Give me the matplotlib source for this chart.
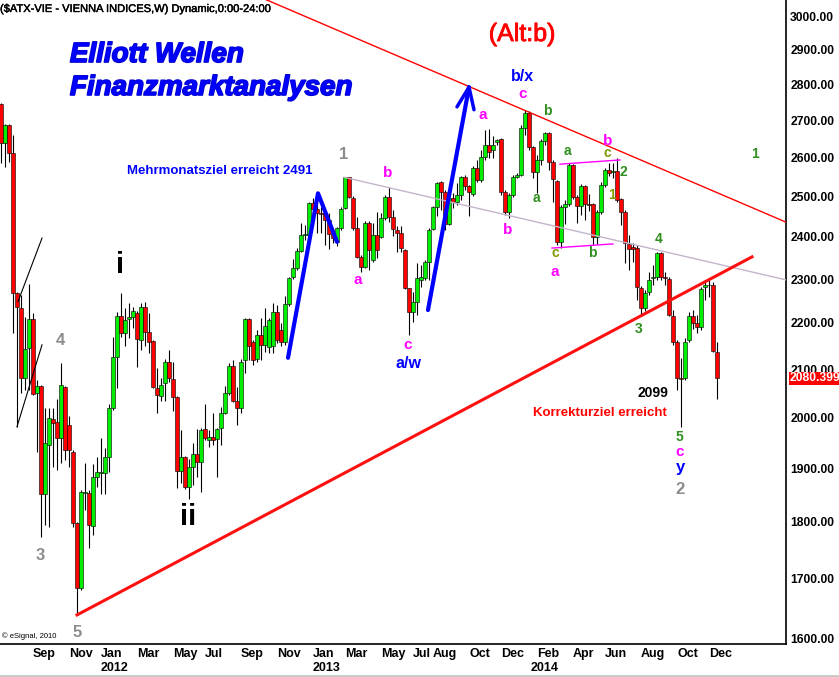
import numpy as np
import pandas as pd
import matplotlib
matplotlib.use("Agg")
import matplotlib.pyplot as plt
import matplotlib.patheffects as pe
from matplotlib.ticker import NullLocator
from matplotlib.transforms import blended_transform_factory

plt.rcParams['font.family'] = ['Liberation Sans', 'DejaVu Sans']

# weekly ATX candles, first week starting 2011-07-11
start_week = "2011-07-11"
opens = [2745, 2639, 2687, 2612, 2268, 2234, 2081, 2145, 2209, 2050,
         2065, 1850, 1945, 1996, 1991, 1959, 2063, 1985, 1931, 1797,
         1683, 1853, 1853, 1792, 1883, 1891, 1891, 1922, 2018, 2126,
         2216, 2178, 2209, 2213, 2222, 2163, 2236, 2180, 2161, 2061,
         2044, 2071, 2116, 2079, 2042, 1894, 1922, 1864, 1902, 1927,
         1912, 1977, 1955, 1961, 1957, 1978, 2009, 2050, 2106, 2033,
         2018, 2119, 2209, 2159, 2121, 2173, 2152, 2148, 2150, 2225,
         2184, 2158, 2243, 2304, 2325, 2365, 2404, 2404, 2484, 2468,
         2458, 2458, 2441, 2406, 2387, 2421, 2471, 2549, 2496, 2421,
         2352, 2328, 2433, 2344, 2404, 2400, 2446, 2498, 2449, 2416,
         2409, 2368, 2279, 2225, 2247, 2298, 2302, 2339, 2419, 2473,
         2536, 2511, 2431, 2496, 2486, 2503, 2549, 2526, 2506, 2573,
         2542, 2601, 2634, 2620, 2642, 2650, 2511, 2461, 2503, 2549,
         2554, 2679, 2720, 2628, 2563, 2594, 2644, 2666, 2589, 2539,
         2388, 2473, 2481, 2581, 2498, 2476, 2526, 2481, 2481, 2400,
         2461, 2529, 2567, 2562, 2565, 2493, 2461, 2383, 2375, 2373,
         2279, 2234, 2270, 2302, 2304, 2361, 2304, 2300, 2216, 2158,
         2081, 2081, 2163, 2216, 2200, 2191, 2282, 2286, 2286, 2137]
highs = [2748, 2690, 2690, 2661, 2270, 2263, 2214, 2288, 2222, 2077,
         2067, 2018, 2018, 2018, 2038, 2113, 2065, 2002, 1935, 1799,
         1859, 1909, 1859, 1907, 1921, 1959, 1938, 2028, 2169, 2225,
         2268, 2234, 2245, 2236, 2227, 2245, 2247, 2222, 2163, 2102,
         2081, 2121, 2141, 2115, 2044, 1975, 1924, 1918, 1949, 1977,
         1978, 2027, 1974, 2009, 1978, 2021, 2065, 2113, 2119, 2063,
         2121, 2211, 2211, 2163, 2184, 2211, 2234, 2211, 2245, 2240,
         2199, 2261, 2304, 2347, 2372, 2433, 2428, 2486, 2496, 2498,
         2473, 2466, 2458, 2409, 2423, 2473, 2549, 2549, 2501, 2449,
         2357, 2438, 2438, 2435, 2461, 2458, 2503, 2524, 2466, 2426,
         2426, 2371, 2280, 2270, 2337, 2332, 2344, 2421, 2476, 2536,
         2539, 2516, 2501, 2508, 2534, 2552, 2554, 2529, 2578, 2594,
         2620, 2674, 2677, 2658, 2650, 2653, 2516, 2508, 2554, 2559,
         2687, 2728, 2725, 2631, 2607, 2650, 2669, 2669, 2594, 2541,
         2478, 2491, 2586, 2584, 2503, 2531, 2529, 2506, 2484, 2466,
         2536, 2573, 2586, 2586, 2599, 2496, 2466, 2404, 2385, 2381,
         2284, 2275, 2316, 2332, 2363, 2363, 2316, 2304, 2229, 2163,
         2124, 2167, 2225, 2229, 2218, 2282, 2298, 2298, 2293, 2158]
lows = [2586, 2576, 2589, 2178, 1981, 2050, 2056, 2056, 2046, 1931,
        1773, 1794, 1790, 1902, 1896, 1910, 1916, 1902, 1790, 1638,
        1680, 1822, 1753, 1776, 1864, 1850, 1850, 1893, 2014, 2061,
        2169, 2150, 2167, 2189, 2104, 2141, 2150, 2135, 2061, 2009,
        2033, 2033, 2073, 2013, 1863, 1872, 1861, 1842, 1868, 1883,
        1855, 1955, 1940, 1945, 1883, 1945, 2007, 2046, 2031, 1985,
        2009, 2092, 2119, 2108, 2115, 2119, 2137, 2135, 2135, 2156,
        2150, 2152, 2238, 2300, 2321, 2363, 2392, 2392, 2428, 2409,
        2409, 2381, 2371, 2385, 2378, 2416, 2468, 2496, 2416, 2349,
        2316, 2326, 2321, 2340, 2349, 2397, 2441, 2436, 2402, 2363,
        2363, 2277, 2173, 2202, 2218, 2282, 2298, 2298, 2416, 2451,
        2466, 2416, 2428, 2471, 2478, 2491, 2516, 2451, 2501, 2536,
        2536, 2594, 2599, 2599, 2634, 2503, 2453, 2446, 2498, 2546,
        2551, 2660, 2620, 2546, 2508, 2581, 2634, 2568, 2486, 2381,
        2373, 2431, 2476, 2494, 2433, 2453, 2441, 2463, 2381, 2383,
        2456, 2524, 2551, 2546, 2486, 2428, 2337, 2321, 2339, 2252,
        2220, 2227, 2263, 2286, 2298, 2298, 2286, 2216, 2152, 2056,
        1981, 2077, 2158, 2187, 2178, 2185, 2252, 2259, 2137, 2038]
closes = [2639, 2687, 2612, 2268, 2236, 2081, 2143, 2209, 2048, 2065,
          1851, 1949, 1998, 1989, 1959, 2067, 1935, 1935, 1797, 1683,
          1855, 1855, 1794, 1883, 1893, 1893, 1922, 2018, 2126, 2216,
          2178, 2206, 2213, 2227, 2165, 2236, 2180, 2158, 2063, 2046,
          2067, 2116, 2081, 2042, 1894, 1922, 1864, 1902, 1927, 1912,
          1974, 1959, 1961, 1955, 1977, 2009, 2050, 2106, 2033, 2018,
          2116, 2209, 2150, 2119, 2173, 2152, 2193, 2206, 2225, 2163,
          2158, 2243, 2302, 2325, 2365, 2404, 2406, 2484, 2468, 2458,
          2456, 2441, 2406, 2397, 2421, 2468, 2549, 2498, 2421, 2352,
          2328, 2433, 2368, 2404, 2368, 2446, 2498, 2449, 2419, 2409,
          2373, 2279, 2225, 2247, 2302, 2304, 2339, 2416, 2473, 2534,
          2511, 2431, 2496, 2486, 2503, 2549, 2526, 2511, 2573, 2542,
          2601, 2634, 2615, 2634, 2647, 2511, 2461, 2503, 2549, 2554,
          2679, 2720, 2628, 2563, 2594, 2644, 2666, 2589, 2544, 2388,
          2473, 2481, 2581, 2498, 2476, 2526, 2481, 2479, 2400, 2461,
          2529, 2567, 2559, 2565, 2491, 2461, 2385, 2371, 2371, 2282,
          2234, 2268, 2298, 2304, 2361, 2304, 2302, 2218, 2158, 2081,
          2079, 2158, 2216, 2200, 2191, 2277, 2286, 2287, 2139, 2080.4]
last_price = 2080.399

month_ticks = [(2011, 9, "Sep"), (2011, 11, "Nov"), (2012, 1, "Jan"), (2012, 3, "Mar"),
               (2012, 5, "May"), (2012, 7, "Jul"), (2012, 9, "Sep"), (2012, 11, "Nov"),
               (2013, 1, "Jan"), (2013, 3, "Mar"), (2013, 5, "May"), (2013, 7, "Jul"),
               (2013, 8, "Aug"), (2013, 10, "Oct"), (2013, 12, "Dec"), (2014, 2, "Feb"),
               (2014, 4, "Apr"), (2014, 6, "Jun"), (2014, 8, "Aug"), (2014, 10, "Oct"),
               (2014, 12, "Dec")]
year_ticks = [(2012, 1), (2013, 1), (2014, 2)]
price_ticks = [1600, 1700, 1800, 1900, 2000, 2100, 2200, 2300, 2400, 2500,
               2600, 2700, 2800, 2900, 3000]

# hand drawn lines: (week0, price0, week1, price1)
resistance = (64.75, 3058, 196.25, 2436)
support = (19, 1638, 187.75, 2352)
mid_line = (85.75, 2549, 196.25, 2298)
tri_upper = (139.75, 2583, 154.75, 2594)
tri_lower = (137.75, 2373, 153.0, 2383)
black_lines = [(4, 1981, 10.25, 2152), (4.25, 2248, 10.25, 2397)]
blue_zigzag_w = [71.75, 79.25, 84]
blue_zigzag_p = [2124, 2508, 2388]
blue_arrow_w = [106.75, 117]
blue_arrow_p = [2229, 2792]
arrow_head_w = [114, 117, 118.25]
arrow_head_p = [2737, 2792, 2729]

GRAY = "#8c8c8c"
PINK = "#ff00ff"
BLUE = "#0000ff"
GREEN = "#2f8f1f"
OLIVE = "#7f9a00"

# wave labels: text, week, price, colour, size
wave_labels = [
    ("1", 85.75, 2609, GRAY, 12), ("4", 14.75, 2161, GRAY, 12), ("3", 9.75, 1739, GRAY, 12),
    ("5", 19, 1610, GRAY, 12), ("2", 169.75, 1859, GRAY, 12),
    ("i", 29.75, 2333, "black", 21), ("ii", 46.75, 1808, "black", 21),
    ("a", 89.25, 2298, PINK, 11), ("b", 96.75, 2560, PINK, 11), ("c", 101.75, 2152, PINK, 11),
    ("a", 120.5, 2715, PINK, 11), ("c", 130.5, 2773, PINK, 11), ("b", 126.75, 2417, PINK, 11),
    ("a", 138.5, 2316, PINK, 11), ("b", 151.75, 2645, PINK, 11), ("c", 169.75, 1931, PINK, 11),
    ("a/w", 101.75, 2111, BLUE, 11.5), ("b/x", 130.5, 2821, BLUE, 11.5), ("y", 169.75, 1902, BLUE, 12),
    ("b", 136.5, 2726, GREEN, 10), ("a", 133.75, 2496, GREEN, 10), ("a", 141.5, 2618, GREEN, 10),
    ("c", 138.5, 2362, OLIVE, 10), ("b", 147.75, 2362, GREEN, 10), ("c", 151.5, 2612, OLIVE, 10),
    ("1", 152.75, 2503, OLIVE, 10), ("2", 155.5, 2563, GREEN, 10), ("4", 164.5, 2395, GREEN, 10),
    ("3", 159.5, 2187, GREEN, 10), ("5", 169.5, 1961, GREEN, 10), ("1", 188.5, 2609, GREEN, 10),
]


def main():
    o = np.array(opens, dtype=float)
    h = np.array(highs, dtype=float)
    l = np.array(lows, dtype=float)
    c = np.array(closes, dtype=float)
    n = len(c)
    x = np.arange(n)
    dates = pd.date_range(start_week, periods=n, freq="7D")

    fig = plt.figure(figsize=(8.39, 6.77), dpi=100)
    ax = fig.add_axes([0, 33 / 677, 786 / 839, 644 / 677])
    ax.set_yscale("log")

    up = c >= o
    colors = np.where(up, "#00ee00", "#ff0000")
    ax.vlines(x, l, h, color="black", lw=0.8, zorder=2)
    bottoms = np.minimum(o, c)
    heights = np.maximum(np.abs(c - o), 0.6)
    ax.bar(x, heights, bottom=bottoms, width=0.8, color=colors,
           edgecolor="black", linewidth=0.4, zorder=3)

    # trend lines
    for ln, col, lw in [(resistance, "#ff0000", 1.0), (mid_line, "#c4b4cc", 1.0),
                        (support, "#ff1010", 2.2), (tri_upper, PINK, 1.0),
                        (tri_lower, PINK, 1.0)]:
        ax.plot([ln[0], ln[2]], [ln[1], ln[3]], color=col, lw=lw, zorder=4)
    for ln in black_lines:
        ax.plot([ln[0], ln[2]], [ln[1], ln[3]], color="black", lw=0.8, zorder=4)
    ax.plot(blue_zigzag_w, blue_zigzag_p, color=BLUE, lw=3, zorder=5, solid_capstyle="round")
    ax.plot(blue_arrow_w, blue_arrow_p, color=BLUE, lw=3, zorder=5, solid_capstyle="round")
    ax.plot(arrow_head_w, arrow_head_p, color=BLUE, lw=2.5, zorder=5, solid_capstyle="round")

    for txt, wx, wp, col, size in wave_labels:
        ax.text(wx, wp, txt, color=col, fontsize=size, fontweight="bold",
                ha="center", va="center", zorder=6)

    ax.text(130.25, 2946, "(Alt:b)", color="#ff0000", fontsize=18, ha="center", va="center",
            path_effects=[pe.withStroke(linewidth=0.6, foreground="#ff0000")])
    ax.text(54.75, 2565, "Mehrmonatsziel erreicht 2491", color=BLUE, fontsize=9.5,
            fontweight="bold", ha="center", va="center")
    ax.text(149.75, 2009, "Korrekturziel erreicht", color="#ff0000", fontsize=9.5,
            fontweight="bold", ha="center", va="center")
    ax.text(163, 2050, "2099", color="black", fontsize=10, fontweight="bold",
            ha="center", va="center")

    head_fx = [pe.withStroke(linewidth=1.2, foreground="#0000cc")]
    ax.text(0.089, 0.9037, "Elliott Wellen", transform=ax.transAxes, color="#0000ff",
            fontsize=20, fontweight="bold", fontstyle="italic", ha="left", va="baseline",
            path_effects=head_fx)
    ax.text(0.089, 0.8525, "Finanzmarktanalysen", transform=ax.transAxes, color="#0000ff",
            fontsize=20, fontweight="bold", fontstyle="italic", ha="left", va="baseline",
            path_effects=head_fx)
    ax.text(0.003, 0.012, "\u00a9 eSignal, 2010", transform=ax.transAxes, fontsize=5.5,
            ha="left", va="center")
    fig.text(0.0, 1 - 9 / 677, "($ATX-VIE - VIENNA INDICES,W) Dynamic,0:00-24:00",
             fontsize=8, ha="left", va="center",
             path_effects=[pe.withStroke(linewidth=0.3, foreground="black")])

    ax.set_xlim(-0.25, 196.25)
    ax.set_ylim(1590.6, 3049)

    # price axis on the right
    ax.yaxis.tick_right()
    ax.set_yticks(price_ticks)
    ax.set_yticklabels(["%.2f" % v for v in price_ticks])
    ax.yaxis.set_minor_locator(NullLocator())
    ax.tick_params(axis="y", length=0, pad=3, labelsize=8.7)
    for lab in ax.get_yticklabels():
        lab.set_fontweight("bold")

    # month labels at first week of month
    pos = []
    names = []
    for yr, mo, name in month_ticks:
        idx = np.where((dates.year == yr) & (dates.month == mo))[0][0]
        pos.append(idx)
        names.append(name)
    ax.set_xticks(pos)
    ax.set_xticklabels(names)
    ax.xaxis.set_minor_locator(NullLocator())
    ax.tick_params(axis="x", length=0, pad=3, labelsize=9)
    for lab in ax.get_xticklabels():
        lab.set_fontweight("bold")
        lab.set_horizontalalignment("left")
    trans = blended_transform_factory(ax.transData, ax.transAxes)
    for yr, mo in year_ticks:
        idx = np.where((dates.year == yr) & (dates.month == mo))[0][0]
        ax.text(idx - 1.5 if mo > 1 else idx, -0.0373, str(yr), transform=trans,
                fontsize=9, fontweight="bold", ha="left", va="center")

    # last price box
    ytrans = blended_transform_factory(ax.transAxes, ax.transData)
    ax.text(1.004, last_price, "%.3f" % last_price, transform=ytrans, color="white",
            fontsize=8.7, fontweight="bold", ha="left", va="center", zorder=10,
            bbox=dict(boxstyle="square,pad=0.05", fc="#ff0000", ec="none"))

    for side in ["top", "left"]:
        ax.spines[side].set_visible(False)
    ax.spines["right"].set_linewidth(1.2)
    ax.spines["bottom"].set_linewidth(1.2)

    fig.add_artist(plt.Line2D([0, 1], [1.5 / 677, 1.5 / 677], color="#c8c8c8", lw=2))

    fig.savefig("out.png", dpi=100)


main()
